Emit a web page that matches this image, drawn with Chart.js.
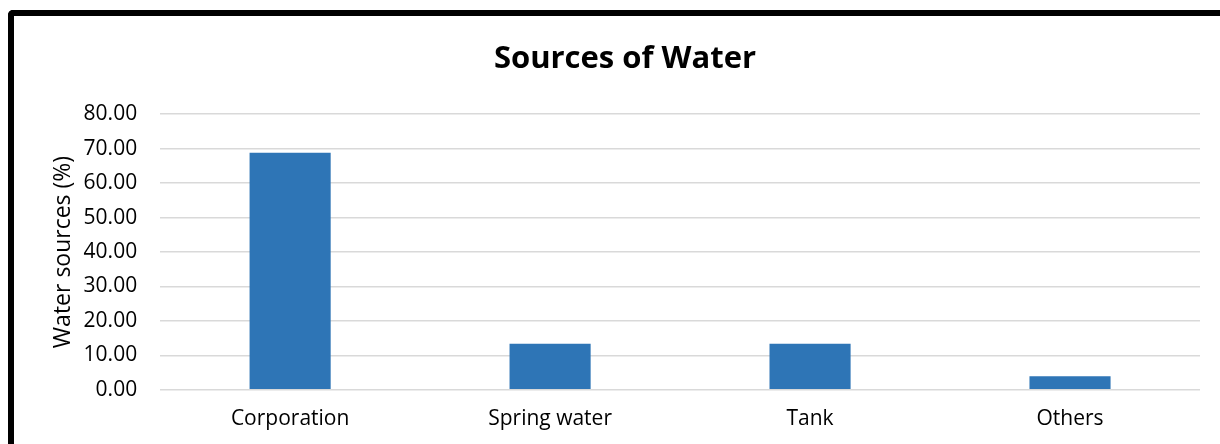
<!DOCTYPE html>
<html>
<head>
<meta charset="utf-8">
<script src="https://cdn.jsdelivr.net/npm/chart.js@4"></script>
<style>
  html, body { margin: 0; padding: 0; background: #fff; overflow: hidden; }
  #wrap { position: absolute; left: 0; top: 0; width: 1220px; height: 444px; }
  #frame {
    position: absolute; left: 8px; top: 10px; width: 1230px; height: 460px;
    border-left: 6px solid #000; border-top: 6px solid #000;
    border-top-left-radius: 5px; pointer-events: none;
  }
</style>
</head>
<body>
<div id="wrap"><canvas id="waterChart" width="1220" height="444"></canvas></div>
<div id="frame"></div>
<script>
const categories = ["Corporation", "Spring water", "Tank", "Others"];
const percentages = [68.8, 13.4, 13.4, 3.9];
const yTicks = [0, 10, 20, 30, 40, 50, 60, 70, 80];

const ctx = document.getElementById("waterChart").getContext("2d");
const fontFamily = "'Open Sans', 'Liberation Sans', sans-serif";

const config = {
  type: "bar",
  data: {
    labels: categories,
    datasets: [
      {
        label: "Water sources (%)",
        data: percentages,
        backgroundColor: "#2E75B6",
        borderWidth: 0,
        barPercentage: 1,
        categoryPercentage: 0.312,
      },
    ],
  },
  options: {
    responsive: false,
    animation: false,
    layout: { padding: { left: 50, right: 20, top: 37, bottom: -5 } },
    plugins: {
      legend: { display: false },
      tooltip: { enabled: false },
      title: {
        display: true,
        text: "Sources of Water",
        color: "#000",
        font: { family: fontFamily, size: 31, weight: "bold" },
        padding: { top: 4, bottom: 36 },
      },
    },
    scales: {
      y: {
        min: 0,
        max: 80,
        afterBuildTicks: (axis) => {
          axis.ticks = yTicks.map((v) => ({ value: v }));
        },
        ticks: {
          color: "#000",
          font: { family: fontFamily, size: 21 },
          padding: 23,
          callback: (v) => Number(v).toFixed(2),
        },
        grid: { color: "#d9d9d9", lineWidth: 1.5, drawTicks: false },
        border: { display: false },
        title: {
          display: true,
          text: "Water sources (%)",
          color: "#000",
          font: { family: fontFamily, size: 23 },
          padding: { top: 0, bottom: -17 },
        },
      },
      x: {
        ticks: {
          color: "#000",
          font: { family: fontFamily, size: 21 },
          padding: 17,
        },
        grid: { display: false, drawTicks: false },
        border: { display: false },
      },
    },
  },
};

const waterChart = new Chart(ctx, config);
</script>
</body>
</html>
